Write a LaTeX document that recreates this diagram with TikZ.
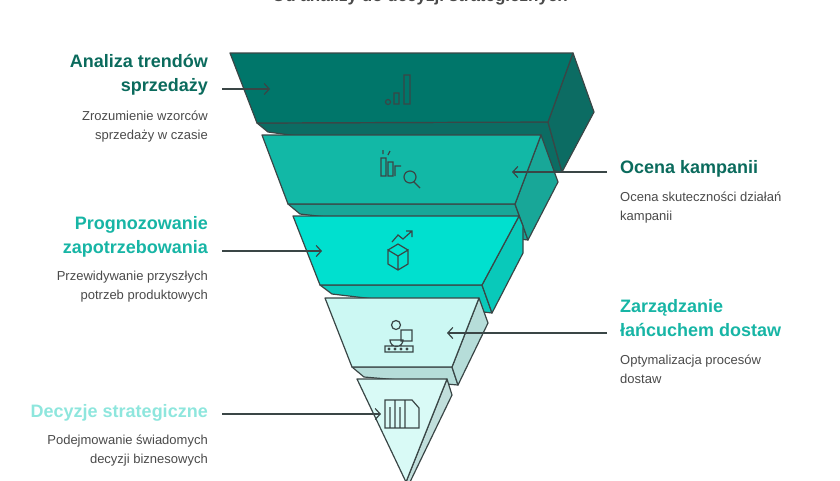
\documentclass[tikz,border=0pt]{standalone}
\usepackage{fontspec}
\setmainfont{Liberation Sans}
\usetikzlibrary{arrows.meta}
\definecolor{edge}{HTML}{3A4646}
\definecolor{lone}{HTML}{00766A}
\definecolor{ltwo}{HTML}{12B8A6}
\definecolor{lthree}{HTML}{00E0CF}
\definecolor{lfour}{HTML}{CCF8F3}
\definecolor{lfive}{HTML}{D9FAF6}
\definecolor{tdark}{HTML}{0B6B5D}
\definecolor{tmid}{HTML}{17B5A5}
\definecolor{tlight}{HTML}{8EE6DD}
\definecolor{tgray}{HTML}{4A4A4A}
\tikzset{
  face/.style={draw=edge, line width=1.2pt, line join=round},
  icon/.style={draw=edge, line width=1.2pt},
  head/.style={font=\bfseries\fontsize{18}{24}\selectfont, inner sep=0pt},
  desc/.style={font=\fontsize{13}{19}\selectfont, text=tgray, inner sep=0pt},
  pointer/.style={draw=edge, line width=1.2pt, -{Straight Barb[length=5pt,width=11pt]}}
}
\begin{document}
\begin{tikzpicture}[x=1pt,y=-1pt]
\useasboundingbox (0,0) rectangle (840,480);
\node[font=\bfseries\fontsize{17}{20}\selectfont, text=tgray] (title) at (420,-3) {Od analizy do decyzji strategicznych};
% layer 1
\draw[face, fill=lone!80!edge] (257,123) -- (268,132) -- (562,172) -- (548,122) -- cycle;
\draw[face, fill=lone!80!edge] (573,53) -- (594,112) -- (562,172) -- (548,122) -- cycle;
\draw[face, fill=lone] (230,53) -- (573,53) -- (548,122) -- (257,123) -- cycle;
% layer 2
\draw[face, fill=ltwo!85!edge] (288,204) -- (300,214) -- (528,240) -- (515,204) -- cycle;
\draw[face, fill=ltwo!85!edge] (541,135) -- (558,182) -- (528,240) -- (515,204) -- cycle;
\draw[face, fill=ltwo] (262,135) -- (541,135) -- (515,204) -- (288,204) -- cycle;
% layer 3
\draw[face, fill=lthree!85!edge] (320,285) -- (332,294) -- (492,313) -- (482,285) -- cycle;
\draw[face, fill=lthree!85!edge] (519,216) -- (523,226) -- (523,253) -- (492,313) -- (482,285) -- cycle;
\draw[face, fill=lthree] (293,216) -- (519,216) -- (482,285) -- (320,285) -- cycle;
% layer 4
\draw[face, fill=lfour!85!edge] (352,367) -- (364,377) -- (458,385) -- (452,367) -- cycle;
\draw[face, fill=lfour!85!edge] (479,298) -- (488,323) -- (458,385) -- (452,367) -- cycle;
\draw[face, fill=lfour] (325,298) -- (479,298) -- (452,367) -- (352,367) -- cycle;
% layer 5
\draw[face, fill=lfive!85!edge] (447,379) -- (452,395) -- (410,482) -- (406,482) -- cycle;
\draw[face, fill=lfive] (357,379) -- (447,379) -- (406,482) -- cycle;
% icons
\draw[icon] (388,102) circle (2.5) (394,104) -- (394,93) -- (399,93) -- (399,104) -- cycle
  (404,104) -- (404,75) -- (410,75) -- (410,104) -- cycle;
\draw[icon] (381,176) rectangle (386,158) (388,176) rectangle (393,162) (395,176) -- (395,166) -- (401,166)
  (410,177) circle (6) (414,182) -- (420,188) (383,154) -- (383,150) (388,155) -- (390,151);
\draw[icon] (388,250) -- (398,256) -- (408,250) -- (408,264) -- (398,270) -- (388,264) -- cycle (398,256) -- (398,270)
  (388,250) -- (398,244) -- (408,250) (392,242) -- (398,235) -- (403,239) -- (412,231) (406,231) -- (412,231) -- (412,237);
\draw[icon] (385,346) rectangle (413,352) (390,340) arc (180:0:6.5) -- cycle (396,325) circle (4.5)
  (401,330) rectangle (412,341) (389,349) circle (0.8) (395,349) circle (0.8) (401,349) circle (0.8) (407,349) circle (0.8);
\draw[icon] (385,400) rectangle (395,428) (395,400) rectangle (405,428) (405,400) -- (412,400) -- (419,408) -- (419,428) -- (405,428)
  (390,407) -- (390,428) (400,407) -- (400,428);
% anchors for pointers
\coordinate (a1) at (270,89); \coordinate (s1) at (222,89);
\coordinate (a2) at (512,172); \coordinate (s2) at (607,172);
\coordinate (a3) at (322,251); \coordinate (s3) at (222,251);
\coordinate (a4) at (447,333); \coordinate (s4) at (607,333);
\coordinate (a5) at (381,414); \coordinate (s5) at (222,414);
\draw[pointer] (s1) -- (a1);
\draw[pointer] (s2) -- (a2);
\draw[pointer] (s3) -- (a3);
\draw[pointer] (s4) -- (a4);
\draw[pointer] (s5) -- (a5);
% labels left
\node[head, text=tdark, anchor=north east, align=right] (h1) at (208,54) {Analiza trendów\\sprzedaży};
\node[desc, anchor=north east, align=right] (d1) at (208,111) {Zrozumienie wzorców\\sprzedaży w czasie};
\node[head, text=tmid, anchor=north east, align=right] (h3) at (208,216) {Prognozowanie\\zapotrzebowania};
\node[desc, anchor=north east, align=right] (d3) at (208,271) {Przewidywanie przyszłych\\potrzeb produktowych};
\node[head, text=tlight, anchor=north east, align=right] (h5) at (208,404) {Decyzje strategiczne};
\node[desc, anchor=north east, align=right] (d5) at (208,435) {Podejmowanie świadomych\\decyzji biznesowych};
% labels right
\node[head, text=tdark, anchor=north west, align=left] (h2) at (620,160) {Ocena kampanii};
\node[desc, anchor=north west, align=left] (d2) at (620,192) {Ocena skuteczności działań\\kampanii};
\node[head, text=tmid, anchor=north west, align=left] (h4) at (620,299) {Zarządzanie\\łańcuchem dostaw};
\node[desc, anchor=north west, align=left] (d4) at (620,355) {Optymalizacja procesów\\dostaw};
\end{tikzpicture}
\end{document}
